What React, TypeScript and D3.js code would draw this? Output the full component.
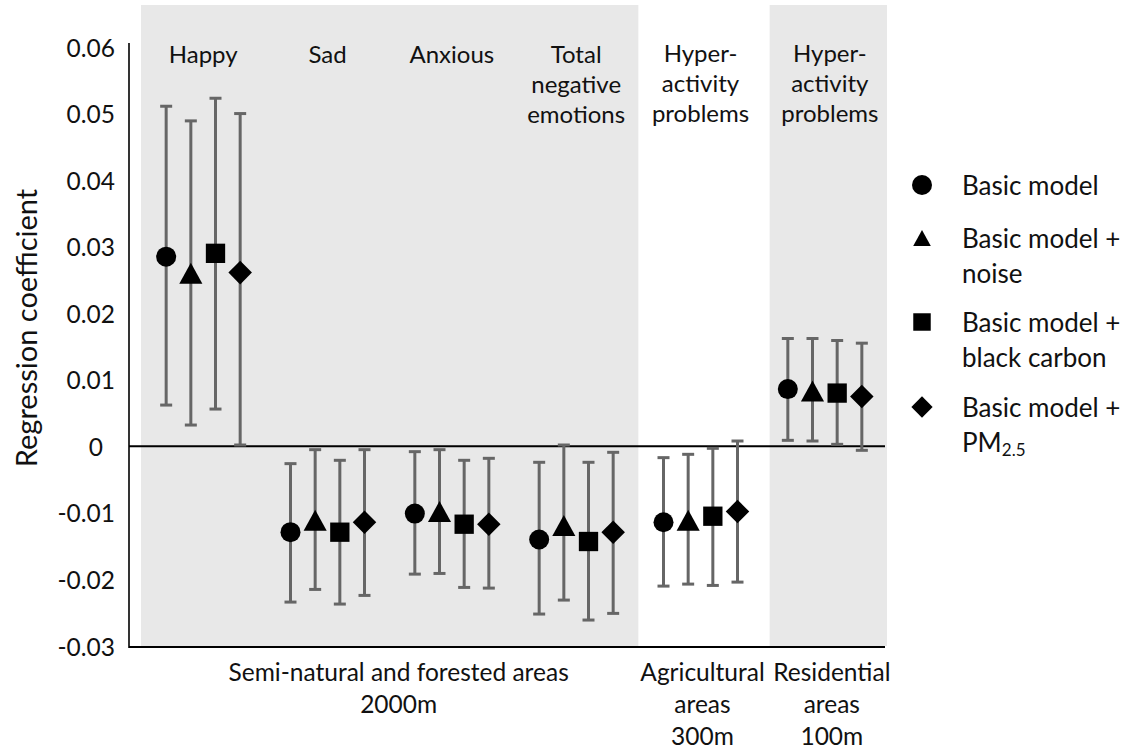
import React, { useEffect } from "react";
import * as d3 from "d3";

// categories along the x axis (one band each)
const categories = ["Happy", "Sad", "Anxious", "Total negative emotions", "Hyperactivity agri", "Hyperactivity resid"];
const categoryLabels = [
  ["Happy"],
  ["Sad"],
  ["Anxious"],
  ["Total", "negative", "emotions"],
  ["Hyper-", "activity", "problems"],
  ["Hyper-", "activity", "problems"],
];

// series (models)
const seriesNames = ["Basic model", "Basic model + noise", "Basic model + black carbon", "Basic model + PM2.5"];
const seriesShapes = ["circle", "triangle", "square", "diamond"];

// point estimates and 95% CI per series, in category order
const basicEst = [0.0285, -0.0129, -0.0101, -0.014, -0.0114, 0.0086];
const basicLow = [0.0062, -0.0234, -0.0192, -0.0252, -0.021, 0.0009];
const basicHigh = [0.0511, -0.0026, -0.0008, -0.0024, -0.0017, 0.0162];

const noiseEst = [0.026, -0.0111, -0.0098, -0.0119, -0.0111, 0.0083];
const noiseLow = [0.0032, -0.0215, -0.0191, -0.0231, -0.0207, 0.0008];
const noiseHigh = [0.0489, -0.0005, -0.0005, 0.0002, -0.0012, 0.0162];

const bcEst = [0.029, -0.0129, -0.0117, -0.0143, -0.0105, 0.008];
const bcLow = [0.0056, -0.0237, -0.0212, -0.0261, -0.0209, 0.0003];
const bcHigh = [0.0523, -0.0021, -0.0021, -0.0024, -0.0003, 0.0159];

const pmEst = [0.0261, -0.0114, -0.0117, -0.0129, -0.0098, 0.0075];
const pmLow = [0.0002, -0.0224, -0.0213, -0.0251, -0.0204, -0.0006];
const pmHigh = [0.05, -0.0005, -0.0018, -0.0009, 0.0008, 0.0155];

const yTicks = [0.06, 0.05, 0.04, 0.03, 0.02, 0.01, 0, -0.01, -0.02, -0.03];
const yTickLabels = ["0.06", "0.05", "0.04", "0.03", "0.02", "0.01", "0", "-0.01", "-0.02", "-0.03"];

// area groups along the bottom
const groupLabels = [
  ["Semi-natural and forested areas", "2000m"],
  ["Agricultural", "areas", "300m"],
  ["Residential", "areas", "100m"],
];
const groupSpans = [[0, 3], [4, 4], [5, 5]];
const shadedSpans = [[0, 3], [5, 5]];

const W = 1130;
const H = 749;
const FONT = "Lato, 'Open Sans', sans-serif";
const ERR = "#666666";
const SHADE = "#e8e8e8";

function markerPath(shape: string, s: number) {
  // s = nominal marker size in px, centered on bbox
  const h = s / 2;
  if (shape === "circle") {
    const p = d3.path();
    p.arc(0, 0, h, 0, Math.PI * 2);
    return p.toString();
  }
  if (shape === "square") {
    const a = h * 0.92;
    return `M${-a},${-a}H${a}V${a}H${-a}Z`;
  }
  if (shape === "triangle") {
    const w = h * 1.1;
    const t = h;
    return `M0,${-t}L${w},${t}L${-w},${t}Z`;
  }
  const d = h * 1.12;
  return `M0,${-d}L${d},0L0,${d}L${-d},0Z`;
}

export default function App() {
  useEffect(() => {
    document.body.style.margin = "0";
  }, []);

  const y = d3.scaleLinear().domain([-0.03, 0.06]).range([646, 47]);
  const x = d3.scaleBand<string>().domain(categories).range([141, 887]);
  const off = d3.scalePoint<string>().domain(seriesNames).range([-37, 37]);
  const bw = x.bandwidth();
  const axisX = 129;
  const axisRight = 885;
  const shadeTop = 5;

  const series = [
    { name: seriesNames[0], est: basicEst, lo: basicLow, hi: basicHigh },
    { name: seriesNames[1], est: noiseEst, lo: noiseLow, hi: noiseHigh },
    { name: seriesNames[2], est: bcEst, lo: bcLow, hi: bcHigh },
    { name: seriesNames[3], est: pmEst, lo: pmLow, hi: pmHigh },
  ];

  const bandStart = (i: number) => x(categories[i]) ?? 0;
  const bandCenter = (i: number) => bandStart(i) + bw / 2;

  const legendRows = [
    { shape: "circle", size: 20, lines: ["Basic model"], y: 185 },
    { shape: "triangle", size: 16, lines: ["Basic model +", "noise"], y: 238 },
    { shape: "square", size: 19, lines: ["Basic model +", "black carbon"], y: 322 },
    { shape: "diamond", size: 19, lines: ["Basic model +", "PM2.5"], y: 407 },
  ];

  return (
    <svg width={W} height={H} style={{ display: "block", background: "#fff" }} fontFamily={FONT}>
      {/* shaded category backgrounds */}
      {shadedSpans.map(([a, b], i) => (
        <rect
          key={i}
          x={bandStart(a) + (a === 5 ? 7 : 0)}
          y={shadeTop}
          width={bandStart(b) + bw - bandStart(a) - (a === 5 ? 7 : 0)}
          height={y(-0.03) - shadeTop}
          fill={SHADE}
        />
      ))}

      {/* y axis ticks */}
      {yTicks.map((t, i) => (
        <text key={t} x={t === 0 ? 103 : 115} y={y(t)} textAnchor="end" dominantBaseline="central" fontSize={24.5} fill="#111">
          {yTickLabels[i]}
        </text>
      ))}
      <text
        transform={`translate(25,${328}) rotate(-90)`}
        textAnchor="middle"
        dominantBaseline="central"
        fontSize={29}
        fill="#111"
      >
        Regression coefficient
      </text>

      {/* axes */}
      <line x1={axisX} x2={axisX} y1={43} y2={y(-0.03) + 2} stroke="#000" strokeWidth={1.6} />
      <line x1={axisX} x2={axisRight} y1={y(-0.03) + 1} y2={y(-0.03) + 1} stroke="#000" strokeWidth={2} />
      <line x1={axisX} x2={axisRight} y1={y(0)} y2={y(0)} stroke="#000" strokeWidth={2} />

      {/* category labels */}
      {categoryLabels.map((lines, i) => (
        <text key={i} textAnchor="middle" fontSize={24} fill="#111">
          {lines.map((l, j) => (
            <tspan key={j} x={bandCenter(i) + (i === 5 ? 5 : 0)} y={(i >= 4 ? 62 : 63) + j * 30}>
              {l}
            </tspan>
          ))}
        </text>
      ))}

      {/* error bars and markers */}
      {series.map((s, si) => (
        <g key={s.name}>
          {categories.map((c, ci) => {
            const cx = bandCenter(ci) + (off(s.name) ?? 0);
            return (
              <g key={c}>
                <line x1={cx} x2={cx} y1={y(s.hi[ci])} y2={y(s.lo[ci])} stroke={ERR} strokeWidth={3} />
                <line x1={cx - 6} x2={cx + 6} y1={y(s.hi[ci])} y2={y(s.hi[ci])} stroke={ERR} strokeWidth={3} />
                <line x1={cx - 6} x2={cx + 6} y1={y(s.lo[ci])} y2={y(s.lo[ci])} stroke={ERR} strokeWidth={3} />
                <path
                  transform={`translate(${cx},${y(s.est[ci])})`}
                  d={markerPath(seriesShapes[si], seriesShapes[si] === "circle" ? 20 : 21)}
                  fill="#000"
                />
              </g>
            );
          })}
        </g>
      ))}

      {/* group labels below the axis */}
      {groupLabels.map((lines, i) => {
        const [a, b] = groupSpans[i];
        const cx = (bandStart(a) + bandStart(b) + bw) / 2 + (i === 0 ? 9 : i === 2 ? 7 : 2);
        return (
          <text key={i} textAnchor="middle" fontSize={24.5} fill="#111">
            {lines.map((l, j) => (
              <tspan key={j} x={cx} y={681 + j * 32}>
                {l}
              </tspan>
            ))}
          </text>
        );
      })}

      {/* legend */}
      {legendRows.map((r, i) => (
        <g key={i}>
          <path transform={`translate(922,${r.y})`} d={markerPath(r.shape, r.size)} fill="#000" />
          <text fontSize={26} fill="#111">
            {r.lines.map((l, j) => (
              <tspan key={j} x={962} y={r.y + j * 35} dominantBaseline="central">
                {l === "PM2.5" ? (
                  <>
                    PM
                    <tspan fontSize={17} dy={7}>
                      2.5
                    </tspan>
                  </>
                ) : (
                  l
                )}
              </tspan>
            ))}
          </text>
        </g>
      ))}
    </svg>
  );
}
